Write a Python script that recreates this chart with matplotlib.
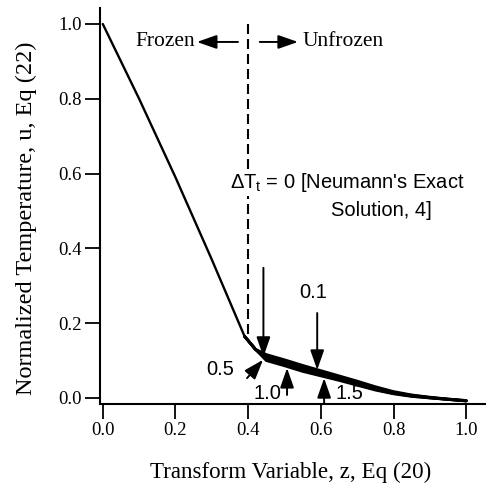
#!/usr/bin/env python3
import matplotlib
matplotlib.use('Agg')
import matplotlib.pyplot as plt

plt.rcParams['font.family'] = 'Liberation Serif'
plt.rcParams['mathtext.fontset'] = 'custom'
plt.rcParams['mathtext.rm'] = 'Liberation Sans'
plt.rcParams['mathtext.it'] = 'Liberation Sans'

# frozen region (shared by all curves)
z_frozen = [0.0, 0.1, 0.2, 0.3, 0.39]
u_frozen = [1.0, 0.80, 0.59, 0.37, 0.165]

# unfrozen region, one curve per delta T_t
z_band = [0.39, 0.42, 0.45, 0.5, 0.55, 0.6, 0.65, 0.7, 0.75, 0.8, 0.85, 0.9, 0.95, 1.0]
u_dt0 = [0.165, 0.130, 0.116, 0.102, 0.087, 0.073, 0.059, 0.045, 0.030, 0.017, 0.008, 0.002, -0.003, -0.007]
u_dt01 = [0.165, 0.130, 0.112, 0.098, 0.083, 0.069, 0.056, 0.042, 0.028, 0.015, 0.007, 0.001, -0.003, -0.007]
u_dt05 = [0.165, 0.130, 0.108, 0.094, 0.079, 0.066, 0.053, 0.039, 0.025, 0.013, 0.006, 0.001, -0.004, -0.008]
u_dt10 = [0.165, 0.130, 0.104, 0.090, 0.075, 0.062, 0.050, 0.036, 0.023, 0.012, 0.005, 0.000, -0.004, -0.008]
u_dt15 = [0.165, 0.130, 0.100, 0.086, 0.071, 0.059, 0.047, 0.034, 0.021, 0.011, 0.004, 0.000, -0.004, -0.008]

# freezing front
front_z = 0.40
front_u = [1.0, 0.16]

ticks = [0.0, 0.2, 0.4, 0.6, 0.8, 1.0]
tick_labels = ['0.0', '0.2', '0.4', '0.6', '0.8', '1.0']

fig = plt.figure(figsize=(4.92, 4.95), dpi=100)
ax = fig.add_axes([0.203, 0.184, 0.783, 0.800])

ax.plot(z_frozen, u_frozen, color='black', lw=1.7, solid_capstyle='round')
for u in [u_dt0, u_dt01, u_dt05, u_dt10, u_dt15]:
    ax.plot(z_band, u, color='black', lw=2.0, solid_capstyle='round')

ax.plot([front_z, front_z], front_u, color='black', lw=1.5, linestyle=(0, (4.8, 2.4)))

ax.set_xlim(-0.008, 1.052)
ax.set_ylim(-0.016, 1.043)
ax.set_xticks(ticks)
ax.set_xticklabels(tick_labels)
ax.set_yticks(ticks)
ax.set_yticklabels(tick_labels)

for s in ['top', 'right']:
    ax.spines[s].set_visible(False)
for s in ['left', 'bottom']:
    ax.spines[s].set_linewidth(1.5)
ax.tick_params(direction='out', length=11, width=1.3, pad=2, labelsize=13.5)

ax.set_xlabel('Transform Variable, z, Eq (20)', fontsize=16.6)
ax.set_ylabel('Normalized Temperature, u, Eq (22)', fontsize=17.5)
ax.xaxis.set_label_coords(0.496, -0.146)
ax.yaxis.set_label_coords(-0.163, 0.47)

# Frozen / Unfrozen labels
arr = dict(arrowstyle='-|>,head_length=0.8,head_width=0.28', mutation_scale=15,
           lw=1.4, color='black', shrinkA=0, shrinkB=0)
ax.text(0.255, 0.952, 'Frozen', fontsize=15.5, ha='right', va='center')
ax.annotate('', xy=(0.259, 0.952), xytext=(0.372, 0.952), arrowprops=arr)
ax.annotate('', xy=(0.537, 0.952), xytext=(0.432, 0.952), arrowprops=arr)
ax.text(0.551, 0.952, 'Unfrozen', fontsize=15.5, ha='left', va='center')

# delta T_t labels and arrows
sans = dict(family='Liberation Sans', fontsize=14.5)
ax.text(0.35, 0.575, "ΔT$_\\mathrm{t}$ = 0 [Neumann's Exact", ha='left', va='center',
        bbox=dict(facecolor='white', edgecolor='none', pad=1), **sans)
ax.text(0.906, 0.500, 'Solution, 4]', ha='right', va='center', **sans)
ax.annotate('', xy=(0.442, 0.110), xytext=(0.442, 0.348), arrowprops=arr)

ax.text(0.579, 0.281, '0.1', ha='center', va='center', **sans)
ax.annotate('', xy=(0.590, 0.075), xytext=(0.590, 0.227), arrowprops=arr)

ax.text(0.322, 0.075, '0.5', ha='center', va='center', **sans)
ax.annotate('', xy=(0.441, 0.102), xytext=(0.397, 0.053), arrowprops=arr)

ax.text(0.452, 0.013, '1.0', ha='center', va='center', **sans)
ax.annotate('', xy=(0.507, 0.080), xytext=(0.507, 0.008), arrowprops=arr)

ax.text(0.678, 0.013, '1.5', ha='center', va='center', **sans)
ax.annotate('', xy=(0.609, 0.053), xytext=(0.609, -0.016), arrowprops=arr)

fig.savefig('out.png', dpi=100)
